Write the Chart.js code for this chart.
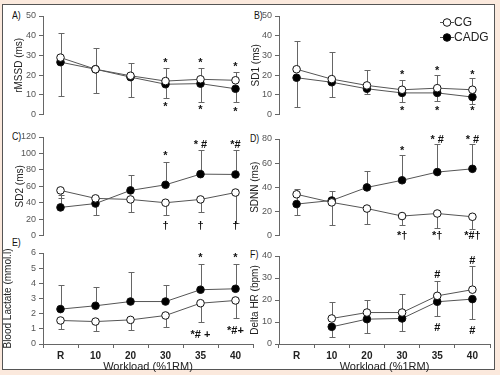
<!DOCTYPE html>
<html>
<head>
<meta charset="utf-8">
<script src="https://cdn.jsdelivr.net/npm/chart.js@4.4.0/dist/chart.umd.min.js"></script>
<style>
  html, body { margin: 0; padding: 0; }
  body { width: 500px; height: 375px; background: #fbe9dd; position: relative; overflow: hidden; font-family: Arial, "Liberation Sans", sans-serif; }
  #frame { position: absolute; left: 2px; top: 4px; width: 491px; height: 364px; background: #fff; border: 1px solid #555; }
  canvas { position: absolute; }
  .tag { position: absolute; font-size: 11px; line-height: 13px; color: #111; transform: scaleX(0.8); transform-origin: left center; }
</style>
</head>
<body>
<div id="frame"></div>
<div class="tag" style="left:12px;top:9px">A)</div>
<div class="tag" style="left:254px;top:9px">B)</div>
<div class="tag" style="left:12px;top:130px">C)</div>
<div class="tag" style="left:250px;top:132px">D)</div>
<div class="tag" style="left:12px;top:236px">E)</div>
<div class="tag" style="left:250px;top:248px">F)</div>
<script>
    "use strict";

    var labels = ['R', '10', '20', '30', '35', '40'];

    // A) rMSSD (ms)
    var cgA = [28.9, 23, 19.7, 17, 17.9, 17.4];
    var cadgA = [26.6, 23, 19, 15.4, 15.7, 13.1];
    var upA = [41.6, 33.6, 26, 23.6, 23.6, 21.6];   // top of CG error bar
    var lowA = [9.3, 11, 9, 8.5, 6.6, 6.2];         // bottom of CADG error bar
    var marksA = [[3, 27, '*'], [4, 27, '*'], [5, 25, '*'], [3, 5, '*'], [4, 3.3, '*'], [5, 2.6, '*']];

    // B) SD1 (ms)
    var cgB = [23, 18, 14.8, 12.6, 13.4, 12.6];
    var cadgB = [18.7, 16.4, 13.1, 11, 11, 8.9];
    var upB = [37.2, 31.5, 22.8, 17.5, 20.3, 18.4];
    var lowB = [4, 8.9, 10.2, 6.6, 6.9, 5.6];
    var marksB = [[3, 21.3, '*'], [4, 23.3, '*'], [5, 21.3, '*'], [3, 3.1, '*'], [4, 3.1, '*'], [5, 3.1, '*']];

    // C) SD2 (ms)
    var cgC = [55, 45.3, 44, 40, 44, 52.4];
    var cadgC = [34.3, 39, 55, 61.8, 74.8, 74.4];
    var upC = [50, 45, 73.6, 89.8, 104, 104];       // top of CADG error bar
    var lowC = [46, 25.6, 28.3, 24.8, 28.3, 15.7];  // bottom of CG error bar
    var marksC = [[3, 99, '*'], [4, 113, '* #'], [5, 113, '*#'], [3, 14, '†'], [4, 14, '†'], [5, 14, '†']];

    // D) SDNN (ms)
    var cgD = [34.2, 27.5, 22.4, 16.2, 18.3, 15.6];
    var cadgD = [26.1, 29.1, 39.9, 45.8, 52.6, 55.3];
    var upD = [38.5, 37, 53.4, 66.6, 75.5, 76];
    var lowD = [17, 8.6, 10, 8.9, 6.7, 5.4];
    var marksD = [[3, 72, '*'], [4, 81, '* #'], [5, 81, '* #'], [3, 1.4, '*†'], [4, 1.4, '*†'], [5, 1.4, '*#†']];

    // E) Blood Lactate (mmol.l)
    var cgE = [1.55, 1.48, 1.59, 1.88, 2.69, 2.87];
    var cadgE = [2.3, 2.52, 2.8, 2.8, 3.58, 3.64];
    var upE = [3.86, 3.73, 4.75, 3.86, 5.3, 5.3];
    var lowE = [0.97, 0.86, 0.93, 1.15, 1.45, 1.7];
    var marksE = [[4, 5.8, '*'], [5, 5.8, '*'], [4, 0.7, '*# +'], [5, 1.0, '*#+']];

    // F) Delta HR (bpm)
    var cgF = [null, 11.6, 14.3, 14.3, 21.9, 24.7];
    var cadgF = [null, 7.8, 11.3, 11.6, 19.2, 20.4];
    var upF = [null, 18.9, 19.9, 22.9, 28.7, 35.3];
    var lowF = [null, 3, 4.8, 5.9, 12.8, 11.3];
    var marksF = [[4, 32.4, '#'], [5, 38.5, '#'], [4, 8.1, '#'], [5, 7, '#']];


    // Error bars: one set going up, one going down
    var errorBars = {
        id: 'errorBars',
        beforeDatasetsDraw: function (chart) {
            var bars = chart.config.options.errSpec;
            var ctx = chart.ctx, xs = chart.scales.x, ys = chart.scales.y;
            ctx.save();
            ctx.strokeStyle = '#666';
            ctx.lineWidth = 1;
            bars.forEach(function (b) {
                var src = chart.data.datasets[b.ds].data;
                b.ends.forEach(function (e, i) {
                    if (e === null || src[i] === null) return;
                    var x = Math.round(xs.getPixelForValue(i)) + 0.5;
                    var y0 = ys.getPixelForValue(src[i]);
                    var y1 = Math.round(ys.getPixelForValue(e)) + 0.5;
                    ctx.beginPath();
                    ctx.moveTo(x, y0);
                    ctx.lineTo(x, y1);
                    ctx.moveTo(x - 3, y1);
                    ctx.lineTo(x + 3, y1);
                    ctx.stroke();
                });
            });
            ctx.restore();
        }
    };

    // Significance marks (*, #, †, +)
    var sigMarks = {
        id: 'sigMarks',
        afterDatasetsDraw: function (chart) {
            var marks = chart.config.options.marks;
            var ctx = chart.ctx, xs = chart.scales.x, ys = chart.scales.y;
            ctx.save();
            ctx.fillStyle = '#111';
            ctx.font = 'bold 11px Arial, "Liberation Sans", sans-serif';
            ctx.textAlign = 'center';
            ctx.textBaseline = 'middle';
            marks.forEach(function (m) {
                ctx.fillText(m[2], xs.getPixelForValue(m[0]), ys.getPixelForValue(m[1]) + 2);
            });
            ctx.restore();
        }
    };

    // Legend of panel B, drawn by hand
    var legendB = {
        id: 'legendB',
        afterDraw: function (chart) {
            var ctx = chart.ctx;
            var off = chart.config.options.origin;
            ctx.save();
            ctx.translate(-off[0], -off[1]);
            chart.data.datasets.forEach(function (ds, k) {
                var y = 22.5 + k * 15;
                ctx.strokeStyle = '#555';
                ctx.lineWidth = 1;
                ctx.beginPath();
                ctx.moveTo(440, y);
                ctx.lineTo(454, y);
                ctx.stroke();
                ctx.beginPath();
                ctx.arc(447, y, 3.8, 0, Math.PI * 2);
                ctx.fillStyle = ds.pointBackgroundColor;
                ctx.fill();
                ctx.strokeStyle = '#111';
                ctx.stroke();
                ctx.fillStyle = '#222';
                ctx.font = '12px Arial, "Liberation Sans", sans-serif';
                ctx.textAlign = 'left';
                ctx.textBaseline = 'middle';
                ctx.fillText(ds.label, 454, y + 0.5);
            });
            ctx.restore();
        }
    };

    var xTitleBottom = 373.6;

    function panel(g, d) {
        var cv = document.createElement('canvas');
        cv.width = g.w;
        cv.height = g.h;
        cv.style.left = g.x + 'px';
        cv.style.top = g.y + 'px';
        cv.style.width = g.w + 'px';
        cv.style.height = g.h + 'px';
        document.body.appendChild(cv);

        var padLeft = g.titleX - 6 - g.x;
        var yWidth = g.left - g.titleX + 6;
        var padBottom = g.xAxis ? g.y + g.h - xTitleBottom : g.y + g.h - g.bottom;

        var plugins = [errorBars, sigMarks];
        if (g.legend) plugins.push(legendB);

        return new Chart(cv, {
            type: 'line',
            data: {
                labels: labels,
                datasets: [{
                    label: 'CG',
                    data: d.cg,
                    borderColor: '#555',
                    borderWidth: 1,
                    pointRadius: 3.8,
                    pointBackgroundColor: '#fff',
                    pointBorderColor: '#111',
                    pointBorderWidth: 1,
                    tension: 0
                }, {
                    label: 'CADG',
                    data: d.cadg,
                    borderColor: '#555',
                    borderWidth: 1,
                    pointRadius: 3.8,
                    pointBackgroundColor: '#000',
                    pointBorderColor: '#111',
                    pointBorderWidth: 1,
                    tension: 0
                }]
            },
            options: {
                responsive: false,
                animation: false,
                devicePixelRatio: 1,
                errSpec: d.err,
                marks: d.marks,
                origin: [g.x, g.y],
                layout: {
                    padding: { left: padLeft, right: g.x + g.w - g.right, top: g.top - g.y, bottom: padBottom }
                },
                plugins: {
                    legend: { display: false },
                    tooltip: { enabled: false }
                },
                scales: {
                    x: {
                        display: g.xAxis,
                        offset: true,
                        grid: { offset: true, drawOnChartArea: false, tickLength: 4, color: '#666' },
                        border: { color: '#666' },
                        ticks: {
                            color: '#222',
                            padding: 2,
                            maxRotation: 0,
                            font: { family: 'Arial, "Liberation Sans", sans-serif', size: 10, weight: 'bold' }
                        },
                        title: {
                            display: true,
                            text: 'Workload (%1RM)',
                            color: '#222',
                            padding: { top: 0, bottom: 0 },
                            font: { family: 'Arial, "Liberation Sans", sans-serif', size: 11 }
                        },
                        afterFit: function (s) {
                            s.height = g.xAxis ? xTitleBottom - g.bottom : 0;
                        }
                    },
                    y: {
                        min: 0,
                        max: d.max,
                        grid: { drawOnChartArea: false, tickLength: 4, color: '#666' },
                        border: { color: '#666' },
                        ticks: {
                            stepSize: d.step,
                            color: '#555',
                            padding: 3,
                            font: { family: 'Arial, "Liberation Sans", sans-serif', size: 9 }
                        },
                        title: {
                            display: true,
                            text: d.title,
                            color: '#222',
                            padding: { top: 0, bottom: 0 },
                            font: { family: 'Arial, "Liberation Sans", sans-serif', size: 10 }
                        },
                        afterFit: function (s) { s.width = yWidth; }
                    }
                }
            },
            plugins: plugins
        });
    }

    // Left column canvases span x 0..258, right column 244..496
    panel({ x: 0, y: 4, w: 258, h: 119, left: 43, right: 256, top: 16, bottom: 117, titleX: 19, xAxis: false },
          { cg: cgA, cadg: cadgA, max: 50, step: 10, title: 'rMSSD (ms)', marks: marksA,
            err: [{ ds: 0, ends: upA }, { ds: 1, ends: lowA }] });

    panel({ x: 244, y: 4, w: 252, h: 119, left: 279, right: 490, top: 16, bottom: 117, titleX: 256, xAxis: false, legend: true },
          { cg: cgB, cadg: cadgB, max: 50, step: 10, title: 'SD1 (ms)', marks: marksB,
            err: [{ ds: 0, ends: upB }, { ds: 1, ends: lowB }] });

    panel({ x: 0, y: 125, w: 258, h: 119, left: 43, right: 256, top: 137, bottom: 238, titleX: 20, xAxis: false },
          { cg: cgC, cadg: cadgC, max: 120, step: 20, title: 'SD2 (ms)', marks: marksC,
            err: [{ ds: 1, ends: upC }, { ds: 0, ends: lowC }] });

    panel({ x: 244, y: 127, w: 252, h: 117, left: 279, right: 490, top: 139, bottom: 238, titleX: 255, xAxis: false },
          { cg: cgD, cadg: cadgD, max: 80, step: 20, title: 'SDNN (ms)', marks: marksD,
            err: [{ ds: 1, ends: upD }, { ds: 0, ends: lowD }] });

    panel({ x: 0, y: 241, w: 258, h: 134, left: 43, right: 256, top: 253, bottom: 344, titleX: 8.5, xAxis: true },
          { cg: cgE, cadg: cadgE, max: 6, step: 1, title: 'Blood Lactate (mmol.l)', marks: marksE,
            err: [{ ds: 1, ends: upE }, { ds: 0, ends: lowE }] });

    panel({ x: 244, y: 244, w: 252, h: 131, left: 279, right: 490, top: 256, bottom: 344, titleX: 255, xAxis: true },
          { cg: cgF, cadg: cadgF, max: 40, step: 10, title: 'Delta HR (bpm)', marks: marksF,
            err: [{ ds: 0, ends: upF }, { ds: 1, ends: lowF }] });
</script>
</body>
</html>
